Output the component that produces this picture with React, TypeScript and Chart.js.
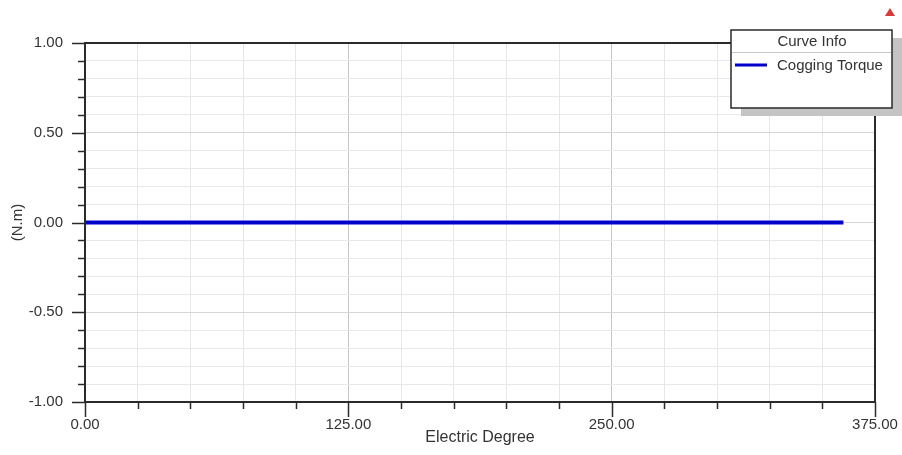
import React, { useEffect, useRef } from 'react';
import { Chart, registerables } from 'chart.js';

Chart.register(...registerables);

// ---- data ----
const electricDegree = [0, 60, 120, 180, 240, 300, 360];
const coggingTorque = [0, 0, 0, 0, 0, 0, 0];
const seriesName = 'Cogging Torque';
const legendTitle = 'Curve Info';
const xAxisTitle = 'Electric Degree';
const yAxisTitle = '(N.m)';
const xRange = [0, 375];
const xStep = 25;
const xMajor = 125;
const yRange = [-1, 1];
const yStep = 0.1;
const yMajor = 0.5;

const FONT = 'Liberation Sans, Arial, sans-serif';
const TEXT = '#333333';
const FRAME = '#2a2a2a';

const fmt = (v: number) => (Math.round(v * 100) / 100 + 0).toFixed(2);
const isXMajor = (v: number) => Math.abs(Math.round(v) % xMajor) === 0;
const isYMajor = (v: number) => Math.abs(Math.round(v / yStep)) % Math.round(yMajor / yStep) === 0;

const decor = {
  id: 'decor',
  afterDatasetsDraw(chart: any) {
    const { ctx, chartArea: a, scales } = chart;
    const xs = scales.x;
    const ys = scales.y;
    ctx.save();
    ctx.strokeStyle = FRAME;
    ctx.lineWidth = 1.5;
    xs.ticks.forEach((t: any) => {
      const px = Math.round(xs.getPixelForValue(t.value)) + 0.5;
      const len = isXMajor(t.value) ? 15 : 7;
      ctx.beginPath();
      ctx.moveTo(px, a.bottom);
      ctx.lineTo(px, a.bottom + len);
      ctx.stroke();
    });
    ys.ticks.forEach((t: any) => {
      const py = Math.round(ys.getPixelForValue(t.value)) + 0.5;
      const len = isYMajor(t.value) ? 13 : 7;
      ctx.beginPath();
      ctx.moveTo(a.left - len, py);
      ctx.lineTo(a.left, py);
      ctx.stroke();
    });
    ctx.lineWidth = 2;
    ctx.strokeRect(a.left, a.top, a.right - a.left, a.bottom - a.top);
    ctx.restore();
  },
  afterDraw(chart: any) {
    const { ctx } = chart;
    const ds = chart.data.datasets[0];
    const bx = 731, by = 30, bw = 161, bh = 78;
    ctx.save();
    ctx.fillStyle = '#c4c4c4';
    ctx.fillRect(bx + 10, by + 8, bw, bh);
    ctx.fillStyle = '#ffffff';
    ctx.fillRect(bx, by, bw, bh);
    ctx.strokeStyle = FRAME;
    ctx.lineWidth = 1.5;
    ctx.strokeRect(bx, by, bw, bh);
    ctx.strokeStyle = '#c8c8c8';
    ctx.lineWidth = 1;
    ctx.beginPath();
    ctx.moveTo(bx + 1, by + 22.5);
    ctx.lineTo(bx + bw - 1, by + 22.5);
    ctx.stroke();
    ctx.fillStyle = TEXT;
    ctx.font = `15px ${FONT}`;
    ctx.textAlign = 'center';
    ctx.textBaseline = 'middle';
    ctx.fillText(legendTitle, bx + 81, by + 12);
    ctx.strokeStyle = ds.borderColor;
    ctx.lineWidth = 3;
    ctx.beginPath();
    ctx.moveTo(bx + 4, by + 35);
    ctx.lineTo(bx + 36, by + 35);
    ctx.stroke();
    ctx.textAlign = 'left';
    ctx.fillText(ds.label, bx + 46, by + 36);
    ctx.fillStyle = '#d83a3a';
    ctx.beginPath();
    ctx.moveTo(890, 8);
    ctx.lineTo(895, 16);
    ctx.lineTo(885, 16);
    ctx.closePath();
    ctx.fill();
    ctx.restore();
  },
};

export default function App() {
  const ref = useRef<HTMLCanvasElement | null>(null);
  useEffect(() => {
    document.body.style.margin = '0';
    const canvas = ref.current!;
    const chart = new Chart(canvas, {
      type: 'line',
      data: {
        datasets: [
          {
            label: seriesName,
            data: electricDegree.map((x, i) => ({ x, y: coggingTorque[i] })),
            borderColor: '#0000cc',
            borderWidth: 4,
            pointRadius: 0,
            tension: 0,
            fill: false,
          },
        ],
      },
      options: {
        animation: false,
        responsive: false,
        devicePixelRatio: 1,
        layout: { padding: { top: 43, right: 27, left: 0, bottom: 0 } },
        plugins: { legend: { display: false }, tooltip: { enabled: false } },
        scales: {
          x: {
            type: 'linear',
            min: xRange[0],
            max: xRange[1],
            afterFit: (s: any) => {
              s.height = 53;
              s.paddingLeft = 0;
              s.paddingRight = 0;
            },
            border: { display: false },
            grid: {
              drawTicks: false,
              lineWidth: 1,
              color: (c: any) => (isXMajor(c.tick.value) ? '#c6c6c6' : '#e6e6e6'),
            },
            ticks: {
              stepSize: xStep,
              autoSkip: false,
              maxRotation: 0,
              padding: 14,
              color: TEXT,
              font: { family: FONT, size: 15 },
              callback: (v: any) => (isXMajor(Number(v)) ? fmt(Number(v)) : ''),
            },
            title: {
              display: true,
              text: xAxisTitle,
              color: TEXT,
              font: { family: FONT, size: 16 },
              padding: { top: 0, bottom: 8 },
            },
          },
          y: {
            type: 'linear',
            min: yRange[0],
            max: yRange[1],
            afterFit: (s: any) => {
              s.width = 85;
              s.paddingTop = 0;
              s.paddingBottom = 0;
            },
            border: { display: false },
            grid: {
              drawTicks: false,
              lineWidth: 1,
              color: (c: any) => (isYMajor(c.tick.value) ? '#d6d6d6' : '#e8e8e8'),
            },
            ticks: {
              stepSize: yStep,
              autoSkip: false,
              padding: 22,
              color: TEXT,
              font: { family: FONT, size: 15 },
              callback: (v: any) => (isYMajor(Number(v)) ? fmt(Number(v)) : ''),
            },
            title: {
              display: true,
              text: yAxisTitle,
              color: TEXT,
              font: { family: FONT, size: 15 },
              padding: { top: 9, bottom: 0 },
            },
          },
        },
      },
      plugins: [decor],
    });
    return () => chart.destroy();
  }, []);
  return (
    <div style={{ width: 902, height: 455 }}>
      <canvas ref={ref} width={902} height={455} style={{ display: 'block', width: 902, height: 455 }} />
    </div>
  );
}
